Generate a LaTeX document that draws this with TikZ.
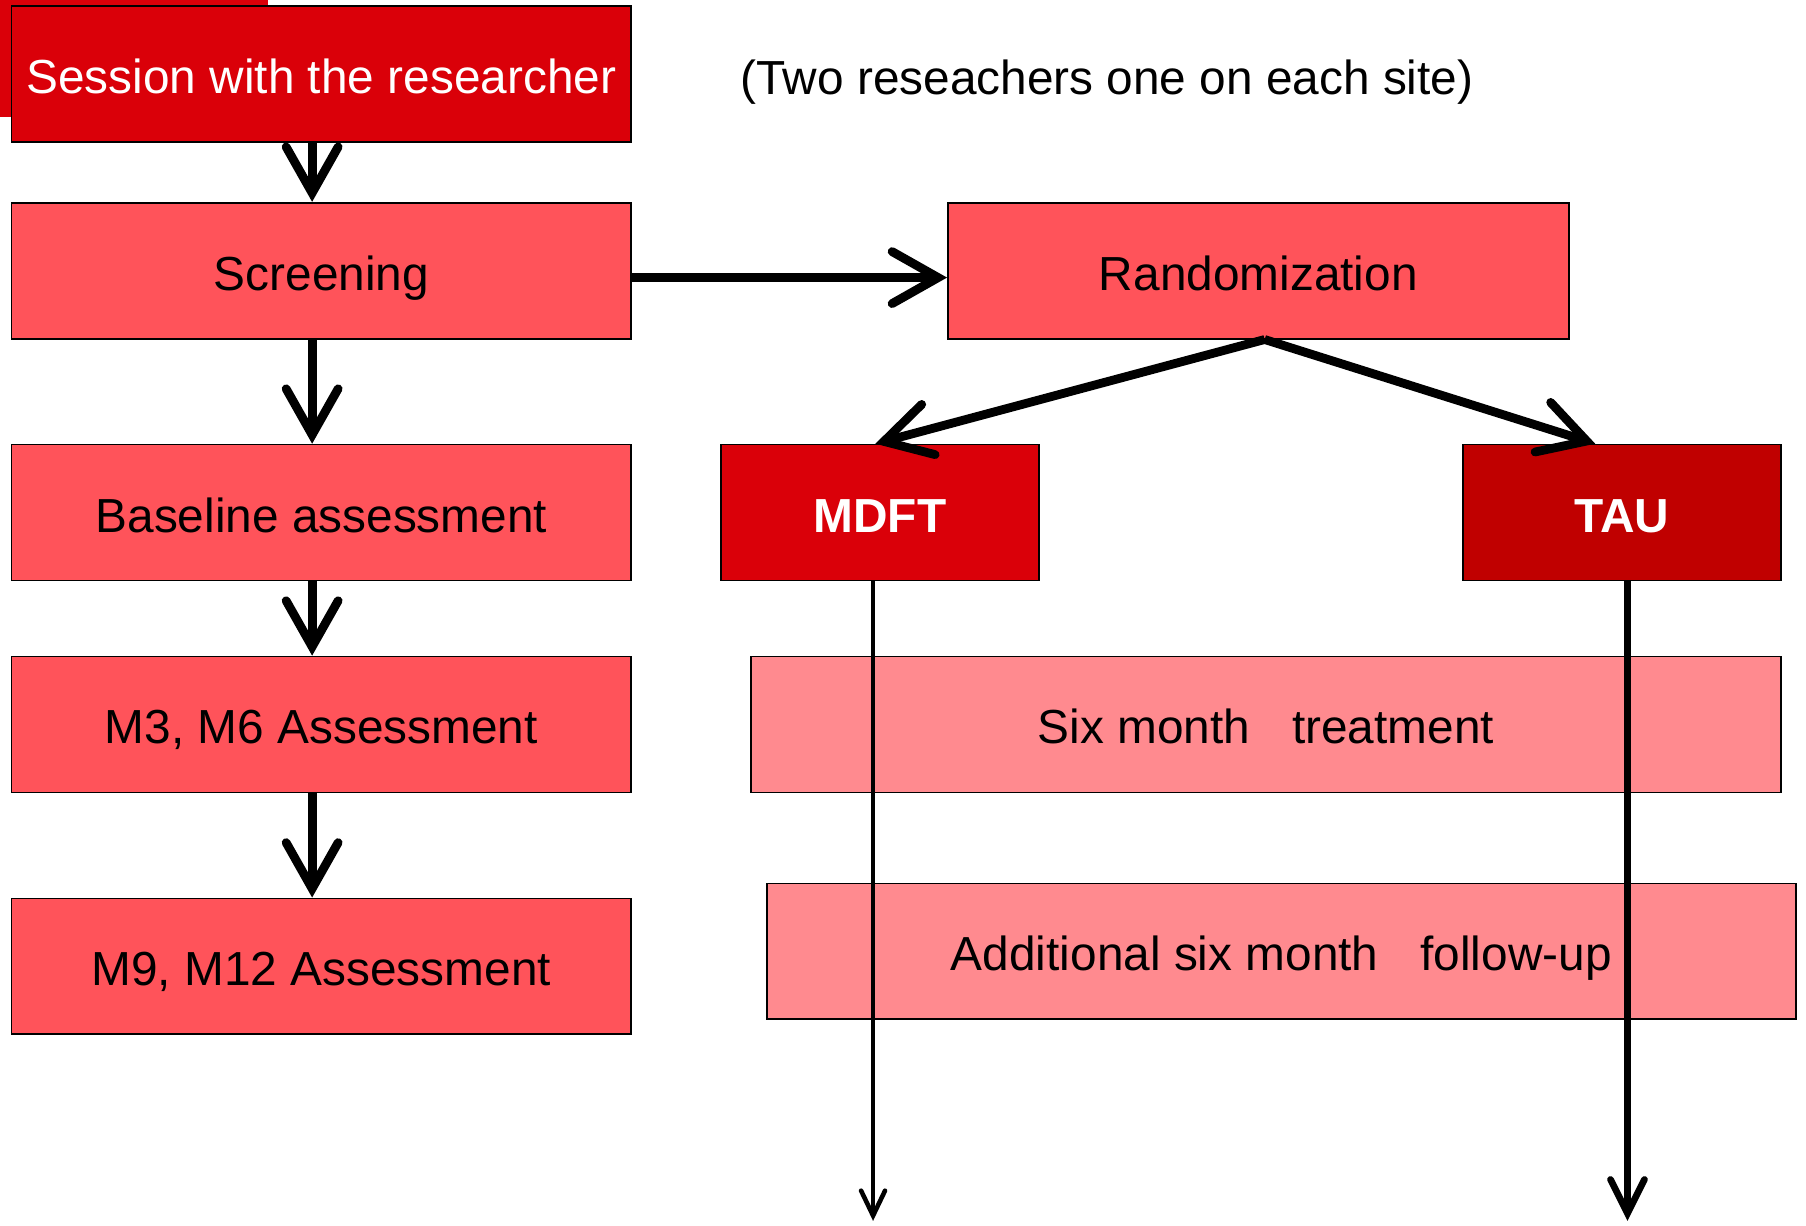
\documentclass[tikz,border=0pt]{standalone}
\usepackage{fontspec}
\setmainfont{Liberation Sans}
\usetikzlibrary{arrows.meta}
\definecolor{darkred}{RGB}{218,0,9}
\definecolor{midred}{RGB}{255,83,90}
\definecolor{lightred}{RGB}{255,138,143}
\definecolor{taured}{RGB}{192,0,0}
\def\u{0.011518cm}
\begin{document}
\begin{tikzpicture}[x=0.011518cm, y=-0.011518cm,
  lbl/.style={font=\fontsize{13.6}{16}\selectfont, text height=11.1pt, text depth=0pt},
  box/.style={lbl, draw=black, line width=0.5pt, rectangle, inner sep=0pt,
    minimum height=118*\u, text=black},
  bigarrow/.style={line width=2.5pt, -{Straight Barb[length=0.46cm, width=0.52cm, line cap=round]}},
  thinarrow/.style={line width=1.3pt, -{Straight Barb[length=0.25cm, width=0.24cm, line cap=round]}},
  medarrow/.style={line width=1.9pt, -{Straight Barb[length=0.34cm, width=0.34cm, line cap=round]}}]
\useasboundingbox (0,0) rectangle (1568,1063.6);
\fill[darkred] (0,0) rectangle (233,102);
% left column
\node[box, fill=darkred, text=white, minimum width=538*\u] (ses) at (279,64) {Session with the researcher};
\node[box, fill=midred, minimum width=538*\u] (scr) at (279,235) {Screening};
\node[box, fill=midred, minimum width=538*\u] (base) at (279,445) {Baseline assessment};
\node[box, fill=midred, minimum width=538*\u] (m36) at (279,629) {M3, M6 Assessment};
\node[box, fill=midred, minimum width=538*\u] (m912) at (279,839) {M9, M12 Assessment};
% right part
\node[lbl] (note) at (961,65) {(Two reseachers one on each site)};
\node[box, fill=midred, minimum width=539*\u] (rand) at (1092.5,235) {Randomization};
\node[box, fill=darkred, text=white, font=\fontsize{13.6}{16}\selectfont\bfseries, minimum width=276*\u] (mdft) at (764,445) {MDFT};
\node[box, fill=taured, text=white, font=\fontsize{13.6}{16}\selectfont\bfseries, minimum width=276*\u] (tau) at (1408,445) {TAU};
\node[box, fill=lightred, minimum width=894*\u] (six) at (1099,629) {Six month\hspace{0.6em} treatment};
\node[box, fill=lightred, minimum width=893*\u] (add) at (1112.5,826) {Additional six month\hspace{0.6em} follow-up};
\coordinate (mdftend) at (758,1060);
\coordinate (tauend) at (1413,1060);
% connectors
\draw[bigarrow] ([xshift=-8*\u]ses.south) -- ([xshift=-8*\u]scr.north);
\draw[bigarrow] ([xshift=-8*\u]scr.south) -- ([xshift=-8*\u]base.north);
\draw[bigarrow] ([xshift=-8*\u]base.south) -- ([xshift=-8*\u]m36.north);
\draw[bigarrow] ([xshift=-8*\u]m36.south) -- ([xshift=-8*\u]m912.north);
\draw[bigarrow] ([yshift=-6*\u]scr.east) -- ([yshift=-6*\u]rand.west);
\draw[bigarrow] ([xshift=5.5*\u]rand.south) -- ([xshift=-4*\u]mdft.north);
\draw[bigarrow] ([xshift=5.5*\u]rand.south) -- ([xshift=-23*\u]tau.north);
\draw[thinarrow] ([xshift=-6*\u]mdft.south) -- (mdftend);
\draw[medarrow] ([xshift=5*\u]tau.south) -- (tauend);
\end{tikzpicture}
\end{document}
